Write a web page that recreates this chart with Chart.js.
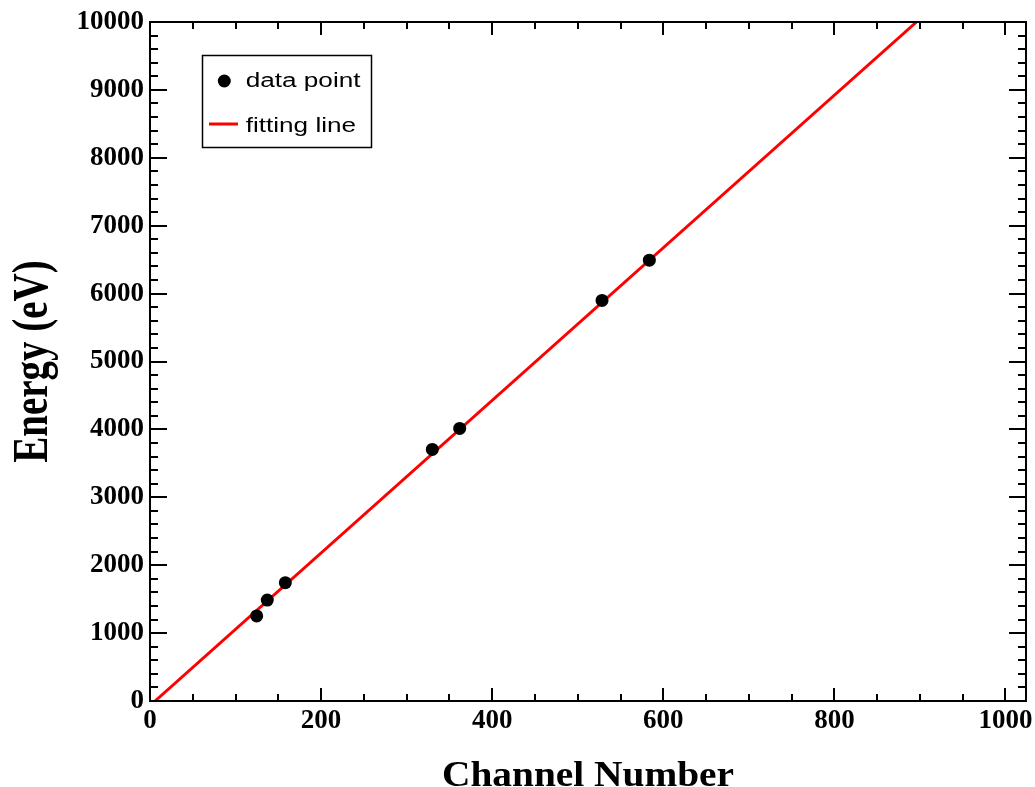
<!DOCTYPE html>
<html>
<head>
<meta charset="utf-8">
<title>Energy calibration</title>
<script src="https://cdn.jsdelivr.net/npm/chart.js@4.4.1/dist/chart.umd.min.js"></script>
<style>
  html, body { margin: 0; padding: 0; background: #fff; }
  #wrap { width: 1035px; height: 787px; }
</style>
</head>
<body>
<div id="wrap"><canvas id="calChart" width="1035" height="787"></canvas></div>
<script>
// calibration lines: peak channel vs. known energy (eV)
const channels = [124.7, 137.1, 158.2, 330.0, 362.0, 528.4, 583.7];
const energies = [1253, 1487, 1742, 3705, 4015, 5900, 6493];

// straight-line fit, given by its two ends
const fitChannels = [5.9, 896];
const fitEnergies = [0, 10000];

const xTickValues = [0, 200, 400, 600, 800, 1000];
const yTickValues = [0, 1000, 2000, 3000, 4000, 5000, 6000, 7000, 8000, 9000, 10000];

const xTitle = 'Channel Number';
const yTitle = 'Energy (eV)';
const legendLabels = ['data point', 'fitting line'];

const serif = '"Liberation Serif", "DejaVu Serif", serif';
const sans = '"Liberation Sans", Arial, sans-serif';

function line(ctx, x1, y1, x2, y2) {
    ctx.beginPath();
    ctx.moveTo(x1, y1);
    ctx.lineTo(x2, y2);
    ctx.stroke();
}

// frame with inward ticks on all four sides, axis titles and the legend box
const rootFrame = {
    id: 'rootFrame',
    afterDraw(chart) {
        const { ctx, chartArea: a, scales: { x, y } } = chart;
        ctx.save();
        ctx.strokeStyle = '#000';
        ctx.lineWidth = 2;

        for (let v = 0; v <= x.max; v += 50) {
            const px = Math.round(x.getPixelForValue(v));
            const len = v % 200 === 0 ? 13 : 7;
            line(ctx, px, a.bottom, px, a.bottom - len);
            line(ctx, px, a.top, px, a.top + len);
        }
        for (let v = 0; v <= y.max; v += 200) {
            const py = Math.round(y.getPixelForValue(v));
            const len = v % 1000 === 0 ? 17 : 8;
            line(ctx, a.left, py, a.left + len, py);
            line(ctx, a.right, py, a.right - len, py);
        }
        ctx.strokeRect(a.left, a.top, a.right - a.left, a.bottom - a.top);

        // axis titles
        ctx.fillStyle = '#000';
        ctx.textAlign = 'center';
        ctx.textBaseline = 'alphabetic';

        ctx.save();
        ctx.font = 'bold 35px ' + serif;
        ctx.translate((a.left + a.right) / 2, 786);
        ctx.scale(1.125, 1);
        ctx.fillText(xTitle, 0, 0);
        ctx.restore();

        ctx.save();
        ctx.font = 'bold 39px ' + serif;
        ctx.translate(47, (a.top + a.bottom) / 2);
        ctx.scale(1.29, 1);
        ctx.rotate(-Math.PI / 2);
        ctx.fillText(yTitle, 0, 0);
        ctx.restore();

        // legend
        ctx.lineWidth = 1.5;
        ctx.fillStyle = '#fff';
        ctx.fillRect(202.5, 55.5, 169, 92);
        ctx.strokeRect(202.5, 55.5, 169, 92);

        ctx.fillStyle = '#000';
        ctx.beginPath();
        ctx.arc(224.3, 81, 6.5, 0, Math.PI * 2);
        ctx.fill();

        ctx.strokeStyle = '#ff0000';
        ctx.lineWidth = 3;
        line(ctx, 209, 124, 238, 124);

        ctx.font = '19.5px ' + sans;
        ctx.textAlign = 'left';
        [[legendLabels[0], 87.3], [legendLabels[1], 131.7]].forEach(([t, by]) => {
            ctx.save();
            ctx.translate(245.7, by);
            ctx.scale(1.34, 1);
            ctx.fillText(t, 0, 0);
            ctx.restore();
        });

        ctx.restore();
    }
};

const tickFont = { family: serif, weight: 'bold', size: 27 };

new Chart(document.getElementById('calChart').getContext('2d'), {
    type: 'scatter',
    data: {
        datasets: [
            {
                label: legendLabels[1],
                data: fitChannels.map((c, i) => ({ x: c, y: fitEnergies[i] })),
                showLine: true,
                borderColor: '#ff0000',
                borderWidth: 3,
                pointRadius: 0,
                order: 2
            },
            {
                label: legendLabels[0],
                data: channels.map((c, i) => ({ x: c, y: energies[i] })),
                backgroundColor: '#000',
                borderWidth: 0,
                pointRadius: 6.5,
                order: 1
            }
        ]
    },
    options: {
        responsive: false,
        animation: false,
        devicePixelRatio: 1,
        layout: { padding: { top: 22, right: 9, left: 0, bottom: 0 } },
        plugins: {
            legend: { display: false },
            tooltip: { enabled: false }
        },
        scales: {
            x: {
                type: 'linear',
                min: 0,
                max: 1024,
                grid: { display: false, drawTicks: false },
                border: { display: false },
                ticks: {
                    font: tickFont, color: '#000', padding: 4, maxRotation: 0, autoSkip: false,
                    callback: v => String(v)
                },
                afterBuildTicks: s => { s.ticks = xTickValues.map(v => ({ value: v })); },
                afterFit: s => { s.height = 86; s.paddingLeft = 0; s.paddingRight = 0; }
            },
            y: {
                type: 'linear',
                min: 0,
                max: 10000,
                grid: { display: false, drawTicks: false },
                border: { display: false },
                ticks: {
                    font: tickFont, color: '#000', padding: 6, autoSkip: false,
                    callback: v => String(v)
                },
                afterBuildTicks: s => { s.ticks = yTickValues.map(v => ({ value: v })); },
                afterFit: s => { s.width = 150; s.paddingTop = 0; s.paddingBottom = 0; }
            }
        }
    },
    plugins: [rootFrame]
});
</script>
</body>
</html>
